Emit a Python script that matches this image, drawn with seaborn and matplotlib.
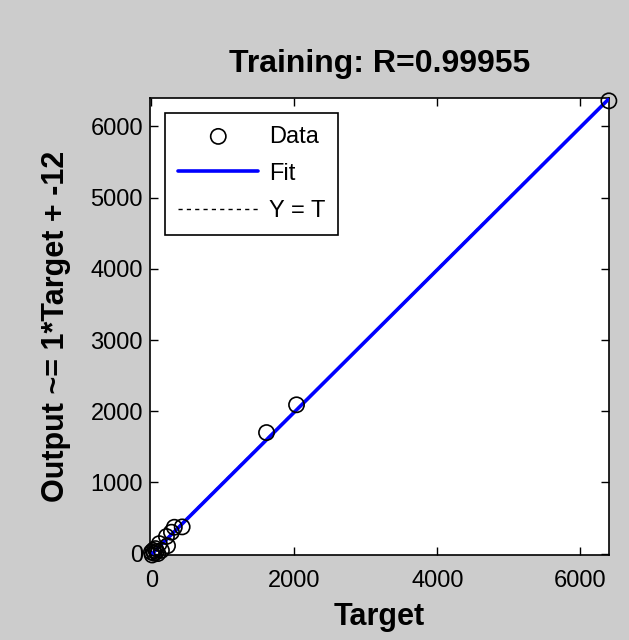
import matplotlib
matplotlib.use("Agg")
import matplotlib.pyplot as plt
import numpy as np
import pandas as pd
import seaborn as sns

# Training set: network targets and outputs
target = [0, 10, 25, 40, 55, 70, 90, 110, 140, 210, 225, 280, 320, 430, 1610, 2030, 6400]
output = [20, -20, 45, 5, 70, 30, 0, 140, 45, 240, 110, 300, 370, 375, 1700, 2090, 6360]

# Linear fit reported in the label
fit_slope = 1
fit_intercept = -12
r_value = "0.99955"

title_text = f"Training: R={r_value}"
xlabel_text = "Target"
ylabel_text = f"Output ~= {fit_slope}*Target + {fit_intercept}"
legend_labels = ["Data", "Fit", "Y = T"]
tick_values = [0, 1000, 2000, 3000, 4000, 5000, 6000]
xtick_values = [0, 2000, 4000, 6000]

sns.set_style("ticks")
plt.rcParams["font.family"] = ["Liberation Sans", "DejaVu Sans"]
plt.rcParams["text.color"] = "black"
plt.rcParams["axes.labelcolor"] = "black"
plt.rcParams["xtick.color"] = "black"
plt.rcParams["ytick.color"] = "black"

fig = plt.figure(figsize=(6.29, 6.40), dpi=100, facecolor="#cccccc")
ax = fig.add_axes([0.2385, 0.1328, 0.7295, 0.7141])
ax.set_facecolor("white")

lo = min(min(target), min(output))
hi = max(max(target), max(output))
lim = np.array([lo, hi])

df_pts = pd.DataFrame({"t": target, "y": output})
df_fit = pd.DataFrame({"t": lim, "y": fit_slope * lim + fit_intercept})
df_id = pd.DataFrame({"t": lim, "y": lim})

sns.lineplot(data=df_id, x="t", y="y", ax=ax, color="black", linestyle=(0, (3, 3)),
             linewidth=1, label=legend_labels[2], zorder=2)
sns.lineplot(data=df_fit, x="t", y="y", ax=ax, color="#0000ff", linewidth=2.6,
             label=legend_labels[1], zorder=3)
sns.scatterplot(data=df_pts, x="t", y="y", ax=ax, marker="o", s=120,
                facecolor="none", edgecolor="black", linewidth=1.2,
                label=legend_labels[0], zorder=4, clip_on=False)

ax.set_xlim(lim)
ax.set_ylim(lim)
ax.set_xticks(xtick_values)
ax.set_yticks(tick_values)
ax.tick_params(axis="both", direction="in", length=6, width=1, labelsize=17,
               top=True, right=True, colors="black")
ax.tick_params(axis="x", pad=11)
ax.tick_params(axis="y", pad=5)
for sp in ax.spines.values():
    sp.set_visible(True)
    sp.set_color("black")
    sp.set_linewidth(1.2)

ax.set_title(title_text, fontsize=23, fontweight="bold", pad=19, color="black")
ax.set_xlabel(xlabel_text, fontsize=22, fontweight="bold", labelpad=7)
ax.set_ylabel(ylabel_text, fontsize=22, fontweight="bold", labelpad=14)

handles, labels = ax.get_legend_handles_labels()
order = [labels.index(l) for l in legend_labels]
leg = ax.legend([handles[i] for i in order], [labels[i] for i in order],
                loc="upper left", bbox_to_anchor=(0.033, 0.968), fontsize=17,
                frameon=True, fancybox=False, edgecolor="black", framealpha=1,
                handlelength=3.4, handletextpad=0.45, labelspacing=0.64,
                borderpad=0.55, borderaxespad=0)
leg.get_frame().set_linewidth(1.2)
for t in leg.get_texts():
    t.set_color("black")

fig.savefig("out.png", dpi=100, facecolor=fig.get_facecolor())
